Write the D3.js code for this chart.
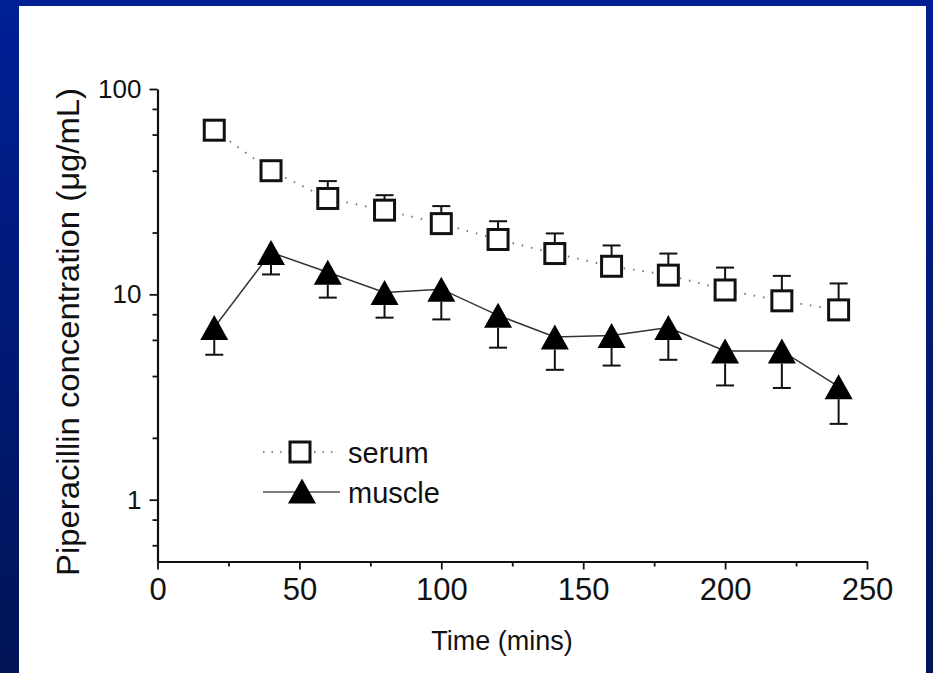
<!DOCTYPE html>
<html>
<head>
<meta charset="utf-8">
<script src="https://cdn.jsdelivr.net/npm/d3@7/dist/d3.min.js"></script>
<style>
  html, body { margin: 0; padding: 0; background: #001a80; }
  svg { display: block; }
  text { font-family: "Liberation Sans", Arial, sans-serif; fill: #111; }
</style>
</head>
<body>
<svg id="chart" width="933" height="673"></svg>
<script>
// Sampling times (minutes)
const times = [20, 40, 60, 80, 100, 120, 140, 160, 180, 200, 220, 240];
// Serum piperacillin, mean and upper error bound (µg/mL)
const serumMean  = [63, 40, 29.3, 25.7, 22.1, 18.5, 15.8, 13.7, 12.4, 10.5, 9.3, 8.4];
const serumUpper = [63, 44, 35.6, 30.4, 26.9, 22.7, 19.8, 17.3, 15.8, 13.5, 12.3, 11.3];
// Muscle piperacillin, mean and lower error bound (µg/mL)
const muscleMean  = [6.9, 16.0, 12.8, 10.2, 10.6, 7.9, 6.2, 6.3, 6.9, 5.3, 5.3, 3.55];
const muscleLower = [5.08, 12.5, 9.64, 7.7, 7.55, 5.5, 4.29, 4.5, 4.8, 3.6, 3.5, 2.34];
// Axis ticks
const xMajorTicks = [0, 50, 100, 150, 200, 250];
const xMinorTicks = [25, 75, 125, 175, 225];
const yMajorTicks = [1, 10, 100];
const yMinorTicks = [0.6, 0.8, 2, 4, 6, 8, 20, 40, 60, 80];
const legendLabels = ["serum", "muscle"];

const svg = d3.select("#chart");

// Blue frame with white panel
const defs = svg.append("defs");
const grad = defs.append("linearGradient").attr("id", "frame")
  .attr("x1", 0).attr("y1", 0).attr("x2", 0).attr("y2", 1);
grad.append("stop").attr("offset", "0%").attr("stop-color", "#001f96");
grad.append("stop").attr("offset", "100%").attr("stop-color", "#001455");
svg.append("rect").attr("width", 933).attr("height", 673).attr("fill", "url(#frame)");
svg.append("rect").attr("x", 19).attr("y", 6).attr("width", 907).attr("height", 667).attr("fill", "#fff");

const x = d3.scaleLinear().domain([0, 250]).range([157.5, 867]);
const y = d3.scaleLog().domain([0.5, 100]).range([561.5, 89]);

// X axis
const xAxis = svg.append("g").attr("transform", `translate(0,${y(0.5)})`)
  .call(d3.axisBottom(x).tickValues(xMajorTicks).tickFormat(d3.format("d"))
    .tickSize(8).tickSizeOuter(0).tickPadding(8));
svg.append("g").attr("transform", `translate(0,${y(0.5)})`)
  .call(d3.axisBottom(x).tickValues(xMinorTicks).tickFormat("").tickSize(5).tickSizeOuter(0))
  .select(".domain").remove();
xAxis.selectAll("text").style("font-size", "31px");

// Y axis
const yAxis = svg.append("g").attr("transform", `translate(${x(0)},0)`)
  .call(d3.axisLeft(y).tickValues(yMajorTicks).tickFormat(d3.format("d"))
    .tickSize(8).tickSizeOuter(0).tickPadding(8));
svg.append("g").attr("transform", `translate(${x(0)},0)`)
  .call(d3.axisLeft(y).tickValues(yMinorTicks).tickFormat("").tickSize(5).tickSizeOuter(0))
  .select(".domain").remove();
yAxis.selectAll("text").style("font-size", "26px");

svg.selectAll(".domain").attr("stroke", "#111").attr("stroke-width", 2.2);
svg.selectAll(".tick line").attr("stroke", "#111").attr("stroke-width", 1.8);
svg.selectAll(".tick text").attr("fill", "#111");

// Axis titles
svg.append("text").attr("x", 502).attr("y", 650).attr("text-anchor", "middle")
  .style("font-size", "27px").text("Time (mins)");
svg.append("text").attr("transform", "translate(79,332) rotate(-90)").attr("text-anchor", "middle")
  .style("font-size", "32px").attr("textLength", 488).attr("lengthAdjust", "spacingAndGlyphs")
  .text("Piperacillin concentration (\u03bcg/mL)");

const serum = times.map((t, i) => ({ t, v: serumMean[i], e: serumUpper[i] }));
const muscle = times.map((t, i) => ({ t, v: muscleMean[i], e: muscleLower[i] }));

const line = d3.line().x(d => x(d.t)).y(d => y(d.v));

// Connecting lines
svg.append("path").datum(serum).attr("d", line).attr("fill", "none")
  .attr("stroke", "#777").attr("stroke-width", 2).attr("stroke-dasharray", "1.5,8");
svg.append("path").datum(muscle).attr("d", line).attr("fill", "none")
  .attr("stroke", "#333").attr("stroke-width", 1.5);

const sq = 20, triW = 28, triH = 25, cap = 18;

// Serum upper error bars
const se = svg.append("g").attr("stroke", "#111").attr("stroke-width", 2);
serum.forEach(d => {
  if (y(d.e) < y(d.v) - sq / 2) {
    se.append("line").attr("x1", x(d.t)).attr("x2", x(d.t)).attr("y1", y(d.v) - sq / 2).attr("y2", y(d.e));
    se.append("line").attr("x1", x(d.t) - cap / 2).attr("x2", x(d.t) + cap / 2).attr("y1", y(d.e)).attr("y2", y(d.e));
  }
});
// Muscle lower error bars
const me = svg.append("g").attr("stroke", "#111").attr("stroke-width", 2);
muscle.forEach(d => {
  me.append("line").attr("x1", x(d.t)).attr("x2", x(d.t)).attr("y1", y(d.v) + triH / 2).attr("y2", y(d.e));
  me.append("line").attr("x1", x(d.t) - cap / 2).attr("x2", x(d.t) + cap / 2).attr("y1", y(d.e)).attr("y2", y(d.e));
});

const triPath = `M0,${-triH / 2}L${triW / 2},${triH / 2}L${-triW / 2},${triH / 2}Z`;

// Markers
svg.append("g").selectAll("rect").data(serum).join("rect")
  .attr("x", d => x(d.t) - sq / 2).attr("y", d => y(d.v) - sq / 2)
  .attr("width", sq).attr("height", sq)
  .attr("fill", "#fff").attr("stroke", "#111").attr("stroke-width", 3);
svg.append("g").selectAll("path").data(muscle).join("path")
  .attr("transform", d => `translate(${x(d.t)},${y(d.v)})`)
  .attr("d", triPath).attr("fill", "#000");

// Legend
const lg = svg.append("g");
lg.append("line").attr("x1", 263).attr("x2", 337).attr("y1", 452).attr("y2", 452)
  .attr("stroke", "#888").attr("stroke-width", 2).attr("stroke-dasharray", "1.5,7");
lg.append("rect").attr("x", 300 - sq / 2).attr("y", 452 - sq / 2).attr("width", sq).attr("height", sq)
  .attr("fill", "#fff").attr("stroke", "#111").attr("stroke-width", 3);
lg.append("line").attr("x1", 263).attr("x2", 340).attr("y1", 492).attr("y2", 492)
  .attr("stroke", "#555").attr("stroke-width", 1.5);
lg.append("path").attr("transform", "translate(302,491)").attr("d", triPath).attr("fill", "#000");
lg.selectAll("text").data(legendLabels).join("text")
  .attr("x", 348).attr("y", (d, i) => 463 + i * 40)
  .style("font-size", "29px").text(d => d);
</script>
</body>
</html>
